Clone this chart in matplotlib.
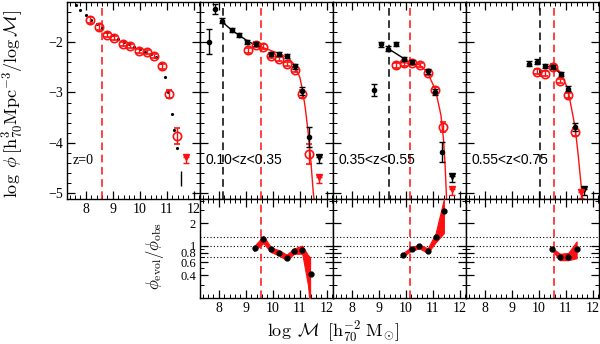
import numpy as np
import matplotlib
matplotlib.use("Agg")
import matplotlib.pyplot as plt
from matplotlib.ticker import MultipleLocator, FixedLocator, NullFormatter, FixedFormatter

plt.rcParams['mathtext.fontset'] = 'cm'
plt.rcParams['font.family'] = ['Liberation Serif', 'DejaVu Serif']

RED = '#ff1010'

# ---------------- data ----------------
panel_labels = ['z=0', '0.10<z<0.35', '0.35<z<0.55', '0.55<z<0.75']
red_vlines = [8.61, 9.55, 10.15, 10.56]
black_vlines = [None, 8.16, 9.39, 10.06]

# panel 1 (z=0)
p1_dot_x = [7.65, 7.8, 8.0, 8.2, 8.4, 8.6, 8.8, 9.0, 9.2, 9.4, 9.6, 9.8, 10.0, 10.2, 10.4, 10.6, 10.8, 10.93, 11.05, 11.19, 11.28, 11.36]
p1_dot_y = [-1.26, -1.36, -1.45, -1.55, -1.63, -1.71, -1.79, -1.86, -1.93, -1.99, -2.04, -2.09, -2.14, -2.19, -2.24, -2.3, -2.42, -2.69, -3.0, -3.42, -3.75, -4.1]
p1_red_x = [8.15, 8.49, 8.77, 9.05, 9.36, 9.64, 9.97, 10.25, 10.52, 10.83, 11.08, 11.36]
p1_red_y = [-1.56, -1.69, -1.86, -1.91, -2.04, -2.08, -2.17, -2.20, -2.28, -2.48, -3.03, -3.86]
p1_red_e = [0.06, 0.06, 0.04, 0.04, 0.04, 0.04, 0.04, 0.04, 0.04, 0.05, 0.08, 0.16]
p1_red_lim = (11.70, -4.29)
p1_black_bar = (11.52, -4.71, 0.15)

# panel 2 (0.10<z<0.35)
p2_blk_x = [7.63, 7.86, 8.13, 8.47, 8.76, 9.05, 9.36, 9.93, 10.23, 10.51, 10.82, 11.09, 11.34]
p2_blk_y = [-1.99, -1.33, -1.57, -1.76, -1.85, -1.99, -2.03, -2.23, -2.24, -2.28, -2.48, -2.97, -3.88]
p2_blk_e = [0.25, 0.10, 0.05, 0.04, 0.04, 0.04, 0.04, 0.04, 0.04, 0.04, 0.05, 0.08, 0.20]
p2_blk_lim = (11.72, -4.29)
p2_red_x = [9.09, 9.36, 9.65, 9.93, 10.23, 10.51, 10.82, 11.09, 11.34]
p2_red_y = [-2.16, -2.05, -2.09, -2.28, -2.33, -2.43, -2.55, -3.04, -4.22]
p2_red_e = [0.05, 0.05, 0.05, 0.04, 0.04, 0.04, 0.05, 0.08, 0.20]
p2_red_lim = (11.72, -4.69)
p2_fit_blk_x = [8.13, 8.5, 8.8, 9.1, 9.3]
p2_fit_blk_y = [-1.60, -1.77, -1.88, -1.99, -2.04]
p2_fit_red_x = [9.3, 9.7, 10.0, 10.3, 10.6, 10.8, 11.0, 11.1, 11.2, 11.3, 11.4, 11.5, 11.53]
p2_fit_red_y = [-2.04, -2.12, -2.18, -2.24, -2.33, -2.45, -2.70, -2.95, -3.30, -3.75, -4.30, -5.00, -5.12]

# panel 3 (0.35<z<0.55)
p3_blk_x = [8.82, 9.07, 9.35, 9.62, 9.94, 10.24, 10.81, 11.09, 11.35]
p3_blk_y = [-2.95, -2.04, -2.13, -2.03, -2.33, -2.39, -2.58, -3.0, -4.19]
p3_blk_e = [0.12, 0.05, 0.05, 0.04, 0.04, 0.04, 0.05, 0.06, 0.20]
p3_blk_lim = (11.70, -4.66)
p3_red_x = [9.62, 9.94, 10.21, 10.52, 10.81, 11.09, 11.37]
p3_red_y = [-2.46, -2.42, -2.42, -2.46, -2.61, -2.95, -3.69]
p3_red_e = [0.05, 0.05, 0.04, 0.04, 0.05, 0.06, 0.10]
p3_red_lim = (11.70, -4.93)
p3_fit_blk_x = [9.35, 9.65, 9.94]
p3_fit_blk_y = [-2.13, -2.23, -2.33]
p3_fit_red_x = [9.6, 9.9, 10.2, 10.5, 10.8, 11.1, 11.3, 11.4, 11.46, 11.51]
p3_fit_red_y = [-2.40, -2.41, -2.42, -2.45, -2.60, -2.95, -3.45, -3.95, -4.5, -5.12]

# panel 4 (0.55<z<0.75)
p4_blk_x = [9.63, 9.92, 10.23, 10.51, 10.81, 11.07, 11.34]
p4_blk_y = [-2.43, -2.39, -2.48, -2.49, -2.63, -2.93, -3.68]
p4_blk_e = [0.05, 0.05, 0.04, 0.04, 0.04, 0.05, 0.08]
p4_blk_lim = (11.67, -4.92)
p4_red_x = [9.92, 10.23, 10.51, 10.78, 11.07, 11.34]
p4_red_y = [-2.59, -2.63, -2.49, -2.78, -3.06, -3.78]
p4_red_e = [0.05, 0.05, 0.05, 0.04, 0.05, 0.08]
p4_red_lim = (11.58, -4.99)
p4_fit_blk_x = [10.23, 10.5, 10.8]
p4_fit_blk_y = [-2.48, -2.49, -2.62]
p4_fit_red_x = [10.5, 10.8, 11.07, 11.34, 11.45, 11.55, 11.62]
p4_fit_red_y = [-2.43, -2.60, -2.92, -3.68, -4.2, -4.75, -5.12]

# ratio panels
r2_x = [9.34, 9.65, 9.93, 10.23, 10.51, 10.79, 11.09, 11.40]
r2_y = [0.93, 1.22, 0.89, 0.80, 0.69, 0.84, 0.87, 0.42]
r2_bx = [9.30, 9.65, 9.93, 10.23, 10.51, 10.79, 11.09, 11.30, 11.38]
r2_hi = [0.98, 1.35, 0.95, 0.87, 0.76, 0.92, 1.00, 0.75, 0.70]
r2_lo = [0.85, 1.08, 0.82, 0.74, 0.64, 0.78, 0.78, 0.30, 0.15]

r3_x = [9.90, 10.21, 10.50, 10.81, 11.10, 11.41]
r3_y = [0.76, 0.91, 0.98, 0.86, 1.29, 2.91]
r3_bx = [9.90, 10.21, 10.50, 10.81, 11.10, 11.41]
r3_hi = [0.80, 0.96, 1.03, 0.92, 1.45, 4.2]
r3_lo = [0.72, 0.86, 0.92, 0.80, 1.10, 1.47]

r4_x = [10.50, 10.78, 11.09, 11.40]
r4_y = [0.90, 0.70, 0.71, 0.89]
r4_bx = [10.50, 10.78, 11.09, 11.40]
r4_hi = [0.93, 0.78, 0.80, 1.14]
r4_lo = [0.86, 0.64, 0.64, 0.68]

ratio_lines = [0.7, 1.0, 1.3]
ratio_ticks = [0.4, 0.6, 0.8, 1, 2]
ratio_ticklabels = ['0.4', '0.6', '0.8', '1', '2']

# ---------------- figure ----------------
W, H = 600, 344
fig = plt.figure(figsize=(6.0, 3.44), dpi=100)

def fx(px):
    return px / W

def fy(py):
    return 1 - py / H

lefts = [67, 200, 333, 466]
pw = 133
top_axes = []
for i, l in enumerate(lefts):
    ax = fig.add_axes([fx(l), fy(199), pw / W, 197 / H])
    top_axes.append(ax)
bot_axes = []
for l in lefts[1:]:
    ax = fig.add_axes([fx(l), fy(298), pw / W, 99 / H])
    bot_axes.append(ax)

XLIM = (7.3, 12.23)

def style(ax, ls=10):
    ax.tick_params(which='both', direction='in', top=True, right=True, labelsize=ls, pad=3)
    ax.tick_params(which='major', length=6, width=0.9)
    ax.tick_params(which='minor', length=3, width=0.7)
    for s in ax.spines.values():
        s.set_linewidth(1.0)

for i, ax in enumerate(top_axes):
    ax.set_xlim(*XLIM)
    ax.set_ylim(-5.12, -1.2)
    ax.xaxis.set_major_locator(MultipleLocator(1))
    ax.xaxis.set_minor_locator(MultipleLocator(0.2))
    ax.yaxis.set_major_locator(MultipleLocator(1))
    ax.yaxis.set_minor_locator(MultipleLocator(0.2))
    style(ax)
    if i > 0:
        ax.set_yticklabels([])
        ax.set_xticklabels([])
    ax.axvline(red_vlines[i], color=RED, ls=(0, (5, 3)), lw=1.1)
    if black_vlines[i] is not None:
        ax.axvline(black_vlines[i], color='k', ls=(0, (5, 3)), lw=1.1)
    fam = ['Liberation Serif'] if i == 0 else ['Liberation Sans', 'DejaVu Sans']
    ax.text(0.045, 0.18, panel_labels[i], transform=ax.transAxes, fontsize=10, family=fam)

ekw_red = dict(fmt='o', mfc='none', mec=RED, ecolor=RED, ms=6, mew=1.2, capsize=2.5, elinewidth=1.0, capthick=1.0, zorder=4)
ekw_blk = dict(fmt='o', color='k', ms=3, capsize=2.5, elinewidth=1.0, capthick=1.0, zorder=5)

def uplim(ax, pt, color):
    ax.errorbar([pt[0]], [pt[1]], yerr=[[0.12], [0.0]], fmt='v', color=color, ms=4,
                elinewidth=1.0, capsize=2.5, zorder=5)

# panel 1
ax = top_axes[0]
ax.plot(p1_dot_x, p1_dot_y, color='k', ls='none', marker='.', ms=2.5, zorder=3)
ax.errorbar(p1_red_x, p1_red_y, yerr=p1_red_e, **ekw_red)
uplim(ax, p1_red_lim, RED)
ax.errorbar([p1_black_bar[0]], [p1_black_bar[1]], yerr=[p1_black_bar[2]], fmt='none', ecolor='k', elinewidth=1.0)

# panel 2
ax = top_axes[1]
ax.plot(p2_fit_blk_x, p2_fit_blk_y, color='k', lw=1.0)
ax.plot(p2_fit_red_x, p2_fit_red_y, color=RED, lw=1.0)
ax.errorbar(p2_red_x, p2_red_y, yerr=p2_red_e, **ekw_red)
ax.errorbar(p2_blk_x, p2_blk_y, yerr=p2_blk_e, **ekw_blk)
uplim(ax, p2_blk_lim, 'k')
uplim(ax, p2_red_lim, RED)

# panel 3
ax = top_axes[2]
ax.plot(p3_fit_blk_x, p3_fit_blk_y, color='k', lw=1.0)
ax.plot(p3_fit_red_x, p3_fit_red_y, color=RED, lw=1.0)
ax.errorbar(p3_red_x, p3_red_y, yerr=p3_red_e, **ekw_red)
ax.errorbar(p3_blk_x, p3_blk_y, yerr=p3_blk_e, **ekw_blk)
uplim(ax, p3_blk_lim, 'k')
uplim(ax, p3_red_lim, RED)

# panel 4
ax = top_axes[3]
ax.plot(p4_fit_blk_x, p4_fit_blk_y, color='k', lw=1.0)
ax.plot(p4_fit_red_x, p4_fit_red_y, color=RED, lw=1.0)
ax.errorbar(p4_red_x, p4_red_y, yerr=p4_red_e, **ekw_red)
ax.errorbar(p4_blk_x, p4_blk_y, yerr=p4_blk_e, **ekw_blk)
uplim(ax, p4_blk_lim, 'k')
uplim(ax, p4_red_lim, RED)

# ratio panels
ratio_sets = [(r2_x, r2_y, r2_bx, r2_hi, r2_lo), (r3_x, r3_y, r3_bx, r3_hi, r3_lo), (r4_x, r4_y, r4_bx, r4_hi, r4_lo)]
for j, ax in enumerate(bot_axes):
    ax.set_yscale('log')
    ax.set_xlim(*XLIM)
    ax.set_ylim(0.2, 4.2)
    ax.xaxis.set_major_locator(MultipleLocator(1))
    ax.xaxis.set_minor_locator(MultipleLocator(0.2))
    ax.yaxis.set_major_locator(FixedLocator(ratio_ticks))
    ax.yaxis.set_minor_locator(FixedLocator([0.3, 0.5, 0.7, 0.9, 3, 4]))
    ax.yaxis.set_minor_formatter(NullFormatter())
    style(ax)
    if j == 0:
        ax.yaxis.set_major_formatter(FixedFormatter(ratio_ticklabels))
        ax.tick_params(axis='y', labelsize=9)
    else:
        ax.set_yticklabels([])
    for v in ratio_lines:
        ax.axhline(v, color='k', ls=(0, (1, 2)), lw=0.8)
    ax.axvline(red_vlines[j + 1], color=RED, ls=(0, (5, 3)), lw=1.1)
    x, y, bx, hi, lo = ratio_sets[j]
    ax.fill_between(bx, lo, hi, color=RED, lw=0.8, edgecolor=RED, zorder=3)
    ax.plot(x, y, 'o', color='k', ms=3.5, zorder=5)

fig.text(fx(13), fy(104), r'$\log\ \phi\,[\mathrm{h}^{3}_{70}\mathrm{Mpc}^{-3}/\log\mathcal{M}]$',
         rotation=90, ha='center', va='center', fontsize=13)
fig.text(fx(155), fy(256), r'$\phi_{\rm evol}/\phi_{\rm obs}$', rotation=90, ha='center', va='center', fontsize=12)
fig.text(fx(333), fy(332), r'$\log\ \mathcal{M}\ \,[\mathrm{h}^{-2}_{70}\ \mathrm{M}_{\odot}]$',
         ha='center', va='center', fontsize=13)

fig.savefig('out.png', dpi=100)
